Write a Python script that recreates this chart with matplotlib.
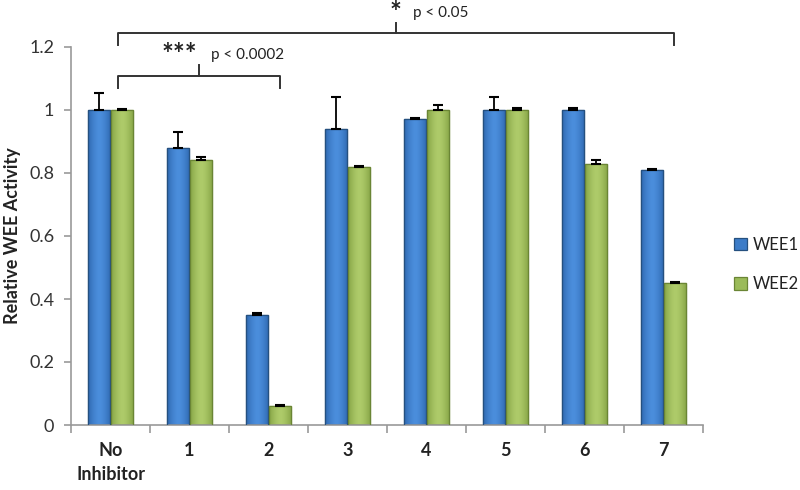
import matplotlib
matplotlib.use("Agg")
import matplotlib.pyplot as plt
import numpy as np
from matplotlib.colors import LinearSegmentedColormap

categories = ["No\nInhibitor", "1", "2", "3", "4", "5", "6", "7"]
wee1 = [1.00, 0.88, 0.35, 0.94, 0.97, 1.00, 1.00, 0.81]
wee2 = [1.00, 0.84, 0.06, 0.82, 1.00, 1.00, 0.83, 0.45]
wee1_err = [0.055, 0.05, 0.005, 0.10, 0.005, 0.04, 0.005, 0.003]
wee2_err = [0.003, 0.01, 0.003, 0.002, 0.017, 0.005, 0.01, 0.003]
yticks = [0, 0.2, 0.4, 0.6, 0.8, 1.0, 1.2]
ytick_labels = ["0", "0.2", "0.4", "0.6", "0.8", "1", "1.2"]

plt.rcParams['font.family'] = ['Lato', 'DejaVu Sans']

fig = plt.figure(figsize=(8, 4.9), dpi=100)
ax = fig.add_axes([71/800, 1-425/490, (703-71)/800, (425-47)/490])

x = np.arange(len(categories))
w = 0.28
off = 0.147
blue = "#3C7CC8"
green = "#9BBB59"
ekw = dict(ecolor="black", capsize=3.5, elinewidth=1.3, capthick=1.5, zorder=4)
b1 = ax.bar(x - off, wee1, w, color=blue, edgecolor="#25507F", linewidth=0.9,
            yerr=[np.zeros(len(wee1)), wee1_err], error_kw=ekw, label="WEE1", zorder=2)
b2 = ax.bar(x + off, wee2, w, color=green, edgecolor="#6A8535", linewidth=0.9,
            yerr=[np.zeros(len(wee2)), wee2_err], error_kw=ekw, label="WEE2", zorder=2)

ax.set_xlim(-0.5, 7.5)
ax.set_ylim(0, 1.2)

# horizontal shading inside each bar (darker edges, lighter centre)
grad = np.abs(np.linspace(-1, 1, 64)) ** 1.6
grad = grad[np.newaxis, :]
cmaps = {
    "b": LinearSegmentedColormap.from_list("bg", ["#4B8EDC", "#2F68B0"]),
    "g": LinearSegmentedColormap.from_list("gg", ["#AECB6A", "#85A345"]),
}
for bars, key in ((b1, "b"), (b2, "g")):
    for p in bars:
        x0, wd, h = p.get_x(), p.get_width(), p.get_height()
        im = ax.imshow(grad, cmap=cmaps[key], aspect="auto", extent=[x0, x0 + wd, 0, h],
                       zorder=2.5, interpolation="bicubic")
        im.set_clip_path(p)
        edge = plt.Rectangle((x0, 0), wd, h, fill=False, edgecolor=p.get_edgecolor(), linewidth=0.9, zorder=3)
        ax.add_patch(edge)
ax.set_xlim(-0.5, 7.5)
ax.set_ylim(0, 1.2)

ax.set_yticks(yticks)
ax.set_yticklabels(ytick_labels, fontsize=13, color="#333333")
ax.set_xticks(x)
ax.set_xticklabels(categories, fontsize=13, fontweight="bold", color="#222222", linespacing=1.5)
ax.set_xticks(np.arange(-0.5, 8.0, 1.0), minor=True)
ax.tick_params(axis="x", which="major", length=0, pad=12)
ax.tick_params(axis="x", which="minor", length=6, color="#999999", width=1.2)
ax.tick_params(axis="y", length=5, color="#999999", width=1.2, pad=7)
for s in ["top", "right"]:
    ax.spines[s].set_visible(False)
for s in ["left", "bottom"]:
    ax.spines[s].set_color("#999999")
    ax.spines[s].set_linewidth(1.2)

ax.set_ylabel("Relative WEE Activity", fontsize=13, fontweight="bold", color="#222222", labelpad=6)

# significance brackets
def bracket(x0, x1, y, drop, rise, stars, ptxt, star_dx, p_dx):
    xm = (x0 + x1) / 2
    ax.plot([x0, x0, x1, x1], [y - drop, y, y, y - drop], color="#333333", lw=1.4, clip_on=False)
    ax.plot([xm, xm], [y, y + rise], color="#333333", lw=1.4, clip_on=False)
    ax.text(xm + star_dx, y + rise - 0.01, stars, fontsize=20, fontweight="bold", ha="center", va="bottom",
            color="#222222", clip_on=False)
    ax.text(xm + p_dx, y + rise + 0.01, ptxt, fontsize=11, ha="left", va="bottom", color="#222222", clip_on=False)

bracket(0.095, 2.15, 1.108, 0.038, 0.035, "***", "p < 0.0002", -0.25, 0.15)
bracket(0.095, 7.13, 1.244, 0.038, 0.032, "*", "p < 0.05", 0.0, 0.22)

leg = fig.legend(*ax.get_legend_handles_labels(), loc="upper left", bbox_to_anchor=(734/800, 1-237/490),
                 frameon=False, fontsize=12, borderaxespad=0, borderpad=0,
                 handlelength=0.75, handleheight=0.75, handletextpad=0.4, labelspacing=1.4)
for t in leg.get_texts():
    t.set_color("#222222")

fig.savefig("out.png", dpi=100)
